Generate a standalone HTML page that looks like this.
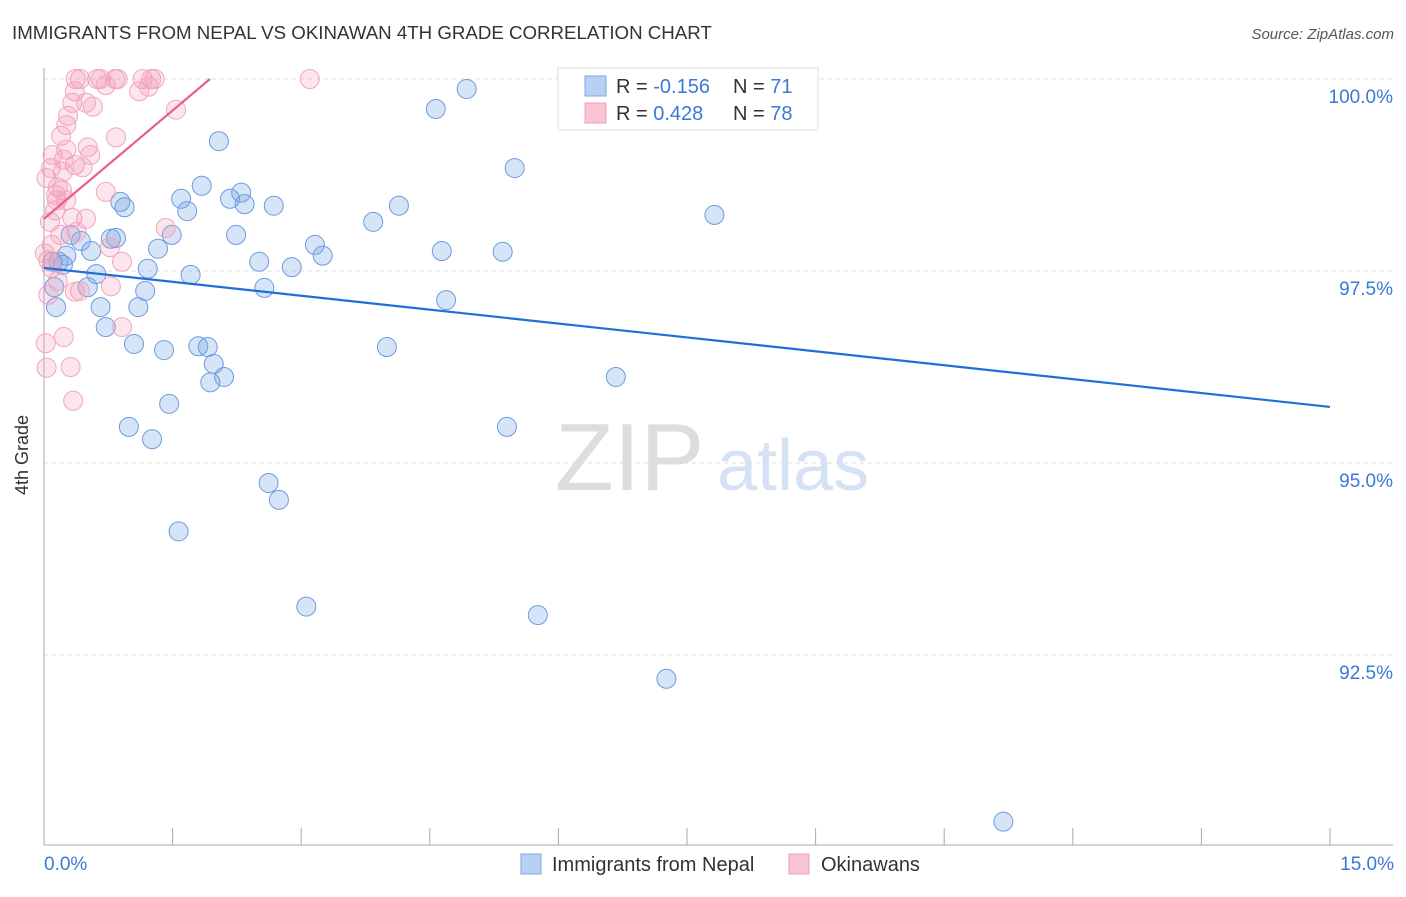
<!DOCTYPE html>
<html><head><meta charset="utf-8"><style>
body{margin:0;background:#fff;font-family:"Liberation Sans",sans-serif}
svg text{font-family:"Liberation Sans",sans-serif}
</style></head><body>
<svg width="1406" height="892" viewBox="0 0 1406 892" xmlns="http://www.w3.org/2000/svg">
<text x="12" y="39" font-size="18.7" fill="#333">IMMIGRANTS FROM NEPAL VS OKINAWAN 4TH GRADE CORRELATION CHART</text>
<text x="1394" y="39" font-size="15" fill="#555" font-style="italic" text-anchor="end">Source: ZipAtlas.com</text>
<g>
<text x="555" y="490" font-size="96" fill="#ddd" font-family="Liberation Serif, serif">ZIP</text>
<text x="717" y="490" font-size="72" fill="#d5e2f5">atlas</text>
</g>
<g id="grid"></g>
<g id="axes"></g>
<g id="pts"></g>
<g id="lines"></g>
<text x="28" y="455" font-size="18" fill="#333" transform="rotate(-90 28 455)" text-anchor="middle">4th Grade</text>
<text x="44" y="870" font-size="19" fill="#3b78d8">0.0%</text>
<text x="1394" y="870" font-size="19" fill="#3b78d8" text-anchor="end">15.0%</text>
<g>
<rect x="558" y="68" width="260" height="62" fill="#fff" stroke="#ddd"/>
<rect x="585" y="76" width="21" height="20" fill="#b8d0f3" stroke="#7fa7e3"/>
<rect x="585" y="103" width="21" height="20" fill="#f8c3d2" stroke="#eea0b7"/>
<text x="616" y="93" font-size="20" fill="#333">R = <tspan fill="#3b78d8">-0.156</tspan></text>
<text x="733" y="93" font-size="20" fill="#333">N = <tspan fill="#3b78d8">71</tspan></text>
<text x="616" y="120" font-size="20" fill="#333">R = <tspan fill="#3b78d8"> 0.428</tspan></text>
<text x="733" y="120" font-size="20" fill="#333">N = <tspan fill="#3b78d8">78</tspan></text>
</g>
<g>
<rect x="521" y="854" width="20" height="20" fill="#b8d0f3" stroke="#7fa7e3"/>
<text x="552" y="871" font-size="20" fill="#333">Immigrants from Nepal</text>
<rect x="789" y="854" width="20" height="20" fill="#f8c3d2" stroke="#eea0b7"/>
<text x="821" y="871" font-size="20" fill="#333">Okinawans</text>
</g>
</svg>
<script>
const yTicks=[100,97.5,95,92.5];
const yTickLabels=["100.0%","97.5%","95.0%","92.5%"];
const xTicks=[0,1.5,3,4.5,6,7.5,9,10.5,12,13.5,15];
const nepalX=[6.22,7.21,6.33,4.93,4.57,2.04,5.49,7.82,1.84,2.30,1.60,2.17,2.34,2.68,4.14,0.89,0.94,1.67,3.84,1.49,2.24,0.78,0.84,0.31,0.43,1.33,3.16,3.25,4.64,5.35,0.55,0.26,0.17,0.22,2.51,2.89,1.21,1.71,0.61,0.12,0.51,1.18,2.57,4.69,0.66,1.10,0.14,0.72,1.05,1.40,1.80,1.91,4.00,1.98,2.10,1.94,6.67,1.46,0.99,1.26,5.40,2.62,2.74,1.57,3.06,5.76,7.26,11.19,0.10];
const nepalY=[100,100,99.67,99.87,99.61,99.19,98.84,98.23,98.61,98.52,98.44,98.44,98.37,98.35,98.35,98.40,98.33,98.28,98.14,97.97,97.97,97.92,97.93,97.97,97.89,97.79,97.84,97.70,97.76,97.75,97.76,97.70,97.62,97.58,97.62,97.55,97.53,97.45,97.46,97.29,97.29,97.24,97.28,97.12,97.03,97.03,97.03,96.77,96.55,96.47,96.52,96.51,96.51,96.29,96.12,96.05,96.12,95.77,95.47,95.31,95.47,94.74,94.52,94.11,93.13,93.02,92.19,90.33,97.62];
const okiX=[0.37,0.42,0.62,0.66,0.83,0.86,1.15,1.25,1.29,3.10,0.72,1.11,1.22,0.36,0.33,0.49,0.57,1.54,0.28,0.26,0.20,0.51,0.84,0.26,0.23,0.36,0.45,0.08,0.22,0.03,0.16,0.21,0.14,0.72,0.26,0.13,0.33,0.49,0.07,0.38,1.42,0.77,0.09,0.01,0.05,0.09,0.91,0.16,0.78,0.42,0.36,0.05,0.23,0.91,0.02,0.03,0.31,0.34,0.15,0.19,0.10,0.54];
const okiY=[100,100,100,100,100,100,100,100,100,100,99.92,99.84,99.90,99.84,99.69,99.69,99.64,99.60,99.52,99.40,99.26,99.11,99.24,99.08,98.95,98.88,98.85,98.84,98.79,98.71,98.59,98.55,98.49,98.53,98.42,98.29,98.19,98.18,98.14,98.01,98.06,97.81,97.84,97.73,97.64,97.54,97.62,97.37,97.30,97.24,97.23,97.19,96.64,96.77,96.56,96.24,96.25,95.81,98.42,97.97,99.01,99.01];
const nepalTrend=[[0,97.54],[15,95.73]];
const okiTrend=[[0,98.18],[1.936,100]];
const X0=44,X1=1330,XMAX=15;
const xs=v=>X0+v/XMAX*(X1-X0);
const ys=v=>79+(100-v)*76.8;
const NS="http://www.w3.org/2000/svg";
function mk(t,a,p){const e=document.createElementNS(NS,t);for(const k in a)e.setAttribute(k,a[k]);document.getElementById(p).appendChild(e);return e;}
yTicks.forEach((t,i)=>{
 const l=mk('line',{x1:44,x2:1393,y1:ys(t),y2:ys(t),stroke:'#ddd','stroke-dasharray':'4,4'},'grid');
 
 
 const tx=mk('text',{x:1393,y:ys(t)+24,'font-size':19,fill:'#3b78d8','text-anchor':'end'},'grid');
 tx.textContent=yTickLabels[i];
 
 
});
let a=mk('line',{x1:44,x2:44,y1:68,y2:845,stroke:'#aaa'},'axes');


a=mk('line',{x1:44,x2:1393,y1:845,y2:845,stroke:'#aaa'},'axes');


xTicks.forEach(t=>{
 const l=mk('line',{x1:xs(t),x2:xs(t),y1:828,y2:845,stroke:'#aaa'},'axes');
 
 
});
nepalX.forEach((x,i)=>{
 const c=mk('circle',{cx:xs(x),cy:ys(nepalY[i]),r:9.5,fill:'rgba(120,165,230,0.3)',stroke:'#6d9be0','stroke-width':1},'pts');
 
 
});
okiX.forEach((x,i)=>{
 const c=mk('circle',{cx:xs(x),cy:ys(okiY[i]),r:9.5,fill:'rgba(244,150,180,0.25)',stroke:'#f0a7bd','stroke-width':1},'pts');
 
 
});
let t=mk('line',{x1:xs(nepalTrend[0][0]),y1:ys(nepalTrend[0][1]),x2:xs(nepalTrend[1][0]),y2:ys(nepalTrend[1][1]),stroke:'#1f6fd6','stroke-width':2.2},'lines');


t=mk('line',{x1:xs(okiTrend[0][0]),y1:ys(okiTrend[0][1]),x2:xs(okiTrend[1][0]),y2:ys(okiTrend[1][1]),stroke:'#e8608a','stroke-width':2.2},'lines');


</script>
</body></html>
